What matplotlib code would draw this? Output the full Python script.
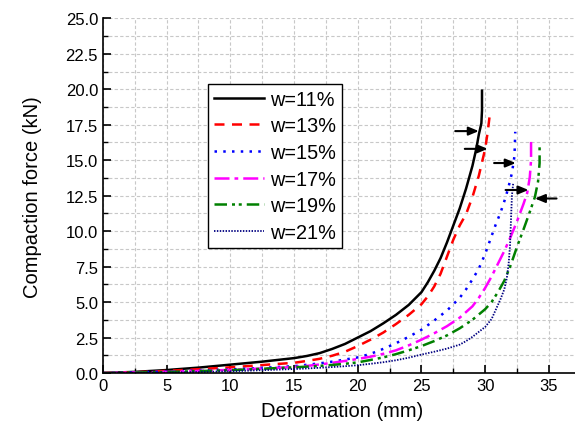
import matplotlib
matplotlib.use("Agg")
import matplotlib.pyplot as plt
from matplotlib.ticker import MultipleLocator

plt.rcParams['font.family'] = ['Liberation Sans', 'DejaVu Sans']

labels = ["w=11%", "w=13%", "w=15%", "w=17%", "w=19%", "w=21%"]

x11 = [0, 2.5, 5, 7.5, 10, 12.5, 15, 16, 17, 18, 19, 20, 21, 22, 23, 24, 25, 25.5, 26, 26.5,
       27, 27.5, 28, 28.5, 29, 29.3, 29.5, 29.7, 29.75, 29.75]
y11 = [0, 0.08, 0.21, 0.38, 0.59, 0.8, 1.05, 1.2, 1.4, 1.7, 2.05, 2.5, 2.95, 3.5, 4.1, 4.8, 5.7, 6.4, 7.2, 8.1,
       9.2, 10.4, 11.6, 13.0, 14.6, 15.8, 16.8, 17.6, 18.5, 19.9]

x13 = [0, 2.5, 5, 7.5, 10, 12.5, 15, 16, 17, 18, 19, 20, 21, 22, 23, 24, 25, 25.5, 26, 26.5,
       27, 27.5, 28, 28.5, 29, 29.5, 30.0, 30.2, 30.4]
y13 = [0, 0.05, 0.15, 0.27, 0.4, 0.56, 0.72, 0.85, 1.0, 1.22, 1.5, 1.9, 2.35, 2.85, 3.45, 4.1, 4.85, 5.4, 6.1, 7.0,
       8.2, 9.4, 10.4, 11.2, 12.4, 13.9, 15.8, 17.0, 18.5]

x15 = [0, 5, 10, 15, 16, 17, 18, 19, 20, 21, 22, 23, 24, 25, 26, 27, 28, 28.5, 29, 29.5,
       30, 30.4, 30.8, 31.2, 31.5, 31.8, 32.1, 32.3, 32.36]
y15 = [0, 0.1, 0.25, 0.48, 0.58, 0.68, 0.8, 0.95, 1.1, 1.35, 1.7, 2.1, 2.55, 3.05, 3.7, 4.4, 5.3, 5.9, 6.6, 7.35,
       8.4, 9.4, 10.4, 11.3, 12.1, 13.0, 14.1, 15.3, 17.0]

x17 = [0, 5, 10, 15, 16, 17, 18, 19, 20, 21, 22, 23, 24, 25, 26, 27, 28, 28.5, 29, 29.5,
       30, 30.5, 31, 31.5, 32, 32.5, 33, 33.3, 33.5, 33.6, 33.6]
y17 = [0, 0.08, 0.22, 0.42, 0.5, 0.6, 0.72, 0.85, 0.99, 1.15, 1.35, 1.6, 1.95, 2.35, 2.8, 3.3, 3.9, 4.3, 4.7, 5.3,
       6.0, 6.8, 7.7, 8.6, 9.6, 10.7, 11.9, 12.7, 13.8, 15.0, 16.6]

x19 = [0, 5, 10, 15, 16, 17, 18, 19, 20, 21, 22, 23, 24, 25, 26, 27, 28, 29, 30, 30.5,
       31, 31.5, 32, 32.5, 33, 33.5, 33.9, 34.15, 34.27, 34.27]
y19 = [0, 0.07, 0.2, 0.4, 0.45, 0.5, 0.57, 0.65, 0.75, 0.92, 1.1, 1.33, 1.6, 1.9, 2.25, 2.65, 3.15, 3.75, 4.5, 5.0,
       5.7, 6.5, 7.6, 8.9, 10.1, 11.35, 12.4, 13.5, 14.8, 16.1]

x21 = [0, 5, 10, 15, 16, 17, 18, 19, 20, 21, 22, 23, 24, 25, 26, 27, 28, 28.5, 29, 29.5,
       30, 30.5, 30.9, 31.2, 31.5, 31.7, 31.85, 31.95, 32.0, 32.05, 32.1, 32.2]
y21 = [0, 0.03, 0.12, 0.28, 0.32, 0.37, 0.42, 0.48, 0.55, 0.65, 0.76, 0.9, 1.08, 1.3, 1.5, 1.72, 2.0, 2.25, 2.55, 2.9,
       3.25, 3.8, 4.6, 5.2, 5.9, 6.7, 7.8, 9.0, 10.2, 11.4, 12.5, 13.4]

# arrows: (tail_x, head_x, y)
arrow_tail_x = [27.65, 28.4, 30.7, 31.6, 35.6]
arrow_head_x = [29.5, 30.2, 32.4, 33.4, 33.9]
arrow_y = [17.05, 15.8, 14.8, 12.9, 12.3]

xs = [x11, x13, x15, x17, x19, x21]
ys = [y11, y13, y15, y17, y19, y21]
colors = ['black', '#ff0000', '#0000ff', '#ff00ff', '#008000', '#000080']
styles = ['-', (0, (4, 3)), (0, (1, 2.5)), (0, (6, 2, 1.5, 2)), (0, (5, 2, 1.2, 1.5, 1.2, 2)), (0, (0.8, 0.8))]
widths = [1.8, 1.8, 1.8, 1.8, 1.8, 1.3]

fig = plt.figure(figsize=(5.75, 4.35), dpi=100)
ax = fig.add_axes([0.179, 0.1402, 0.831, 0.8154])

for x, y, c, ls, lw, lab in zip(xs, ys, colors, styles, widths, labels):
    ax.plot(x, y, color=c, linestyle=ls, linewidth=lw, label=lab)

for tx, hx, yy in zip(arrow_tail_x, arrow_head_x, arrow_y):
    ax.annotate("", xy=(hx, yy), xytext=(tx, yy),
                arrowprops=dict(arrowstyle="-|>,head_length=0.6,head_width=0.25",
                                color='black', lw=1.5, shrinkA=0, shrinkB=0))

ax.set_xlim(0, 37.5)
ax.set_ylim(0, 25)
ax.xaxis.set_major_locator(MultipleLocator(5))
ax.xaxis.set_minor_locator(MultipleLocator(2.5))
ax.yaxis.set_major_locator(MultipleLocator(2.5))
ax.yaxis.set_minor_locator(MultipleLocator(1.25))
ax.yaxis.set_major_formatter(plt.FormatStrFormatter('%.1f'))

ax.spines['top'].set_visible(False)
ax.spines['right'].set_visible(False)
ax.spines['left'].set_linewidth(1.2)
ax.spines['bottom'].set_linewidth(1.2)
ax.tick_params(which='major', direction='in', length=6, width=1.2, labelsize=12)
ax.tick_params(which='minor', direction='in', length=3.5, width=1.0)
ax.grid(which='both', color='#c8c8c8', linestyle=(0, (3, 2)), linewidth=0.8)
ax.set_axisbelow(True)

ax.set_xlabel("Deformation (mm)", fontsize=14.5, labelpad=6)
ax.set_ylabel("Compaction force (kN)", fontsize=14.5, labelpad=17)

leg = ax.legend(loc='upper left', bbox_to_anchor=(0.2204, 0.815), borderaxespad=0,
                fontsize=14.3, frameon=True, fancybox=False, edgecolor='black',
                handlelength=2.5, handletextpad=0.3, labelspacing=0.38,
                borderpad=0.3, framealpha=1)
leg.get_frame().set_linewidth(1.0)

fig.savefig("out.png", dpi=100)
